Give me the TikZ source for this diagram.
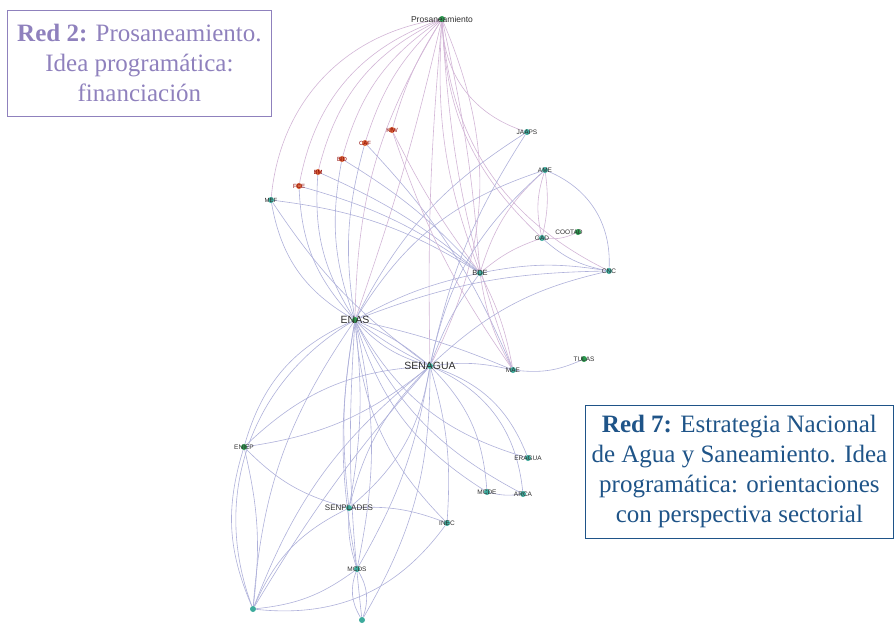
\documentclass[tikz,border=0pt]{standalone}
\usepackage{fontspec}
\setmainfont{Liberation Serif}
\newfontfamily\lblfont{Liberation Sans}
\usetikzlibrary{backgrounds}
\definecolor{redtwo}{HTML}{8F81BD}
\definecolor{redseven}{HTML}{1F5488}
\definecolor{eP}{HTML}{D2B5D6}
\definecolor{eB}{HTML}{AFB1DA}
\definecolor{dgreen}{HTML}{2A9A4E}
\definecolor{dteal}{HTML}{3DAA9C}
\definecolor{dred}{HTML}{D6643A}
\begin{document}
\begin{tikzpicture}[x=1pt,y=1pt,
  dot/.style={circle,inner sep=0pt,minimum size=6pt},
  gdot/.style={dot,fill=dgreen},
  tdot/.style={dot,fill=dteal},
  rdot/.style={dot,fill=dred},
  lb/.style={font=\lblfont\fontsize{#1}{#1}\selectfont,text=black!82,inner sep=0pt},
  rlb/.style={lb=#1,text=red!55!black},
  ep/.style={draw=eP,line width=0.6pt},
  eb/.style={draw=eB,line width=0.6pt},
  infobox/.style={draw=#1,text=#1,line width=0.8pt,align=center,
     font=\fontsize{25}{30}\selectfont,inner sep=0pt,anchor=north west}
]
\useasboundingbox (0,0) rectangle (895,-622);

% nodes
\node[gdot,label={[lb=8.5]center:Prosaneamiento}] (P) at (442,-19) {};
\node[tdot,label={[lb=6]center:MEF}] (MEF) at (271,-200) {};
\node[rdot,label={[rlb=6]center:FCE}] (FCE) at (299,-186) {};
\node[rdot,label={[rlb=6]center:BM}] (BM) at (318,-172) {};
\node[rdot,label={[rlb=6]center:BID}] (BID) at (342,-159) {};
\node[rdot,label={[rlb=6]center:CAF}] (CAF) at (365,-143) {};
\node[rdot,label={[rlb=6]center:KfW}] (KFW) at (392,-130) {};
\node[tdot,label={[lb=6.5]center:JAAPS}] (JAAPS) at (527,-132) {};
\node[tdot,label={[lb=6.5]center:AME}] (AME) at (545,-170) {};
\node[tdot,label={[lb=6.5]center:GAD}] (GAD) at (542,-238) {};
\node[gdot,label={[lb=6.5,xshift=-9pt]center:COOTAD}] (COOTAD) at (578,-232) {};
\node[tdot,label={[lb=6.5]center:CNC}] (CNC) at (609,-271) {};
\node[tdot,label={[lb=7.5]center:BDE}] (BDE) at (480,-273) {};
\node[gdot,label={[lb=10.5]center:ENAS}] (ENAS) at (355,-320) {};
\node[tdot,label={[lb=10.5]center:SENAGUA}] (SEN) at (430,-366) {};
\node[tdot,label={[lb=6.5]center:MAE}] (MAE) at (513,-370) {};
\node[gdot,label={[lb=6.5]center:TULAS}] (TULAS) at (584,-359) {};
\node[gdot,label={[lb=6.5]center:ENIEP}] (ENIEP) at (244,-447) {};
\node[tdot,label={[lb=6.5]center:ERAGUA}] (ERAGUA) at (528,-458) {};
\node[tdot,label={[lb=6.5]center:MCDE}] (MCDE) at (487,-492) {};
\node[tdot,label={[lb=6.5]center:ARCA}] (ARCA) at (523,-494) {};
\node[tdot,label={[lb=8]center:SENPLADES}] (SENP) at (349,-508) {};
\node[tdot,label={[lb=6.5]center:INEC}] (INEC) at (447,-523) {};
\node[tdot,label={[lb=6.5]center:MCDS}] (MCDS) at (357,-569) {};
\node[tdot] (B1) at (253,-609) {};
\node[tdot] (B2) at (362,-620) {};

\begin{scope}[on background layer]
% Prosaneamiento
\draw[ep] (P) to[bend right=38] (MEF);
\draw[ep] (P) to[bend right=30] (FCE);
\draw[ep] (P) to[bend right=25] (BM);
\draw[ep] (P) to[bend right=20] (BID);
\draw[ep] (P) to[bend right=14] (CAF);
\draw[ep] (P) to[bend right=8] (KFW);
\draw[ep] (P) to[bend right=35] (JAAPS);
\draw[ep] (P) to[bend right=22] (GAD);
\draw[ep] (P) to[bend right=12] (BDE);
\draw[ep] (P) to[bend left=4] (BDE);
\draw[ep] (P) to[bend right=8] (MAE);
\draw[ep] (P) to[bend right=15] (ENAS);
\draw[ep] (P) to[bend left=3] (ENAS);
\draw[ep] (P) to[bend right=3] (SEN);
\draw[ep] (P) to[bend left=25] (SEN);
\draw[ep] (P) to[bend right=30] (CNC);
% red nodes
\draw[eb] (MEF) to[bend right=25] (ENAS);
\draw[eb] (MEF) to[bend left=12] (BDE);
\draw[eb] (MEF) to[bend right=10] (SEN);
\draw[eb] (FCE) to[bend right=20] (ENAS);
\draw[eb] (FCE) to[bend left=10] (BDE);
\draw[eb] (BM) to[bend right=18] (ENAS);
\draw[eb] (BM) to[bend left=8] (BDE);
\draw[eb] (BID) to[bend right=15] (ENAS);
\draw[eb] (BID) to[bend left=8] (BDE);
\draw[eb] (CAF) to[bend right=12] (ENAS);
\draw[eb] (CAF) to[bend left=10] (MAE);
\draw[ep] (KFW) to[bend right=5] (BDE);
\draw[ep] (KFW) to[bend right=8] (MAE);
% right upper cluster
\draw[ep] (BDE) to[bend left=15] (AME);
\draw[ep] (BDE) to[bend left=10] (GAD);
\draw[ep] (BDE) to[bend right=10] (MAE);
\draw[ep] (BDE) to[bend left=8] (MAE);
\draw[eb] (BDE) to[bend left=10] (CNC);
\draw[ep] (AME) to[bend left=10] (GAD);
\draw[ep] (AME) to[bend right=15] (GAD);
\draw[eb] (AME) to[bend left=35] (CNC);
\draw[ep] (GAD) to[bend right=15] (COOTAD);
\draw[eb] (GAD) to[bend right=15] (CNC);
\draw[eb] (MAE) to[bend right=15] (TULAS);
\draw[eb] (ENAS) to[bend left=15] (JAAPS);
\draw[eb] (SEN) to[bend left=10] (JAAPS);
\draw[eb] (ENAS) to[bend left=20] (AME);
\draw[eb] (SEN) to[bend left=18] (AME);
\draw[eb] (SEN) to[bend left=15] (CNC);
\draw[eb] (ENAS) to[bend left=10] (CNC);
\draw[eb] (ENAS) to[bend left=8] (BDE);
\draw[eb] (SEN) to[bend left=8] (BDE);
\draw[eb] (SEN) to[bend left=10] (MAE);
\draw[eb] (ENAS) to[bend left=5] (MAE);
% ENAS / SENAGUA
\draw[eb] (ENAS) to[bend right=5] (SEN);
\draw[eb] (ENAS) to[bend right=15] (SEN);
\draw[eb] (ENAS) to[bend left=8] (SEN);
\draw[eb] (ENAS) to[bend right=25] (ENIEP);
\draw[eb] (ENAS) to[bend right=40] (B1);
\draw[eb] (ENAS) to[bend right=15] (B1);
\draw[eb] (ENAS) to[bend right=8] (SENP);
\draw[eb] (ENAS) to[bend left=8] (SENP);
\draw[eb] (ENAS) to[bend right=10] (MCDS);
\draw[eb] (ENAS) to[bend left=12] (MCDS);
\draw[eb] (ENAS) to[bend right=5] (B2);
\draw[eb] (ENAS) to[bend right=20] (INEC);
\draw[eb] (ENAS) to[bend right=20] (MCDE);
\draw[eb] (ENAS) to[bend right=22] (ERAGUA);
\draw[eb] (ENAS) to[bend right=18] (ARCA);
\draw[eb] (SEN) to[bend left=15] (ENIEP);
\draw[eb] (SEN) to[bend right=20] (ENIEP);
\draw[eb] (SEN) to[bend right=15] (SENP);
\draw[eb] (SEN) to[bend left=20] (SENP);
\draw[eb] (SEN) to[bend right=15] (B1);
\draw[eb] (SEN) to[bend right=5] (B1);
\draw[eb] (SEN) to[bend left=10] (MCDS);
\draw[eb] (SEN) to[bend left=15] (B2);
\draw[eb] (SEN) to[bend left=10] (INEC);
\draw[eb] (SEN) to[bend left=20] (MCDE);
\draw[eb] (SEN) to[bend left=25] (ERAGUA);
\draw[eb] (SEN) to[bend left=30] (ARCA);
% lower cluster
\draw[eb] (ENIEP) to[bend right=20] (B1);
\draw[eb] (ENIEP) to[bend right=15] (SENP);
\draw[eb] (ENIEP) to[bend left=10] (B1);
\draw[eb] (SENP) to[bend left=12] (INEC);
\draw[eb] (SENP) to[bend right=20] (B1);
\draw[eb] (SENP) to[bend right=10] (MCDS);
\draw[eb] (B1) to[bend right=30] (INEC);
\draw[eb] (B1) to[bend right=15] (MCDS);
\draw[eb] (MCDS) to[bend left=25] (B2);
\draw[eb] (MCDS) to[bend right=25] (B2);
\draw[eb] (MCDE) to[bend right=10] (ARCA);
\end{scope}

% info boxes
\node[infobox=redtwo,minimum width=264pt,minimum height=106pt] (red2) at (7,-10)
  {\textbf{Red 2:} Prosaneamiento.\\Idea programática:\\financiación};
\node[infobox=redseven,minimum width=308pt,minimum height=133pt] (red7) at (585,-405)
  {\textbf{Red 7:} Estrategia Nacional\\de Agua y Saneamiento. Idea\\programática: orientaciones\\con perspectiva sectorial};
\end{tikzpicture}
\end{document}
